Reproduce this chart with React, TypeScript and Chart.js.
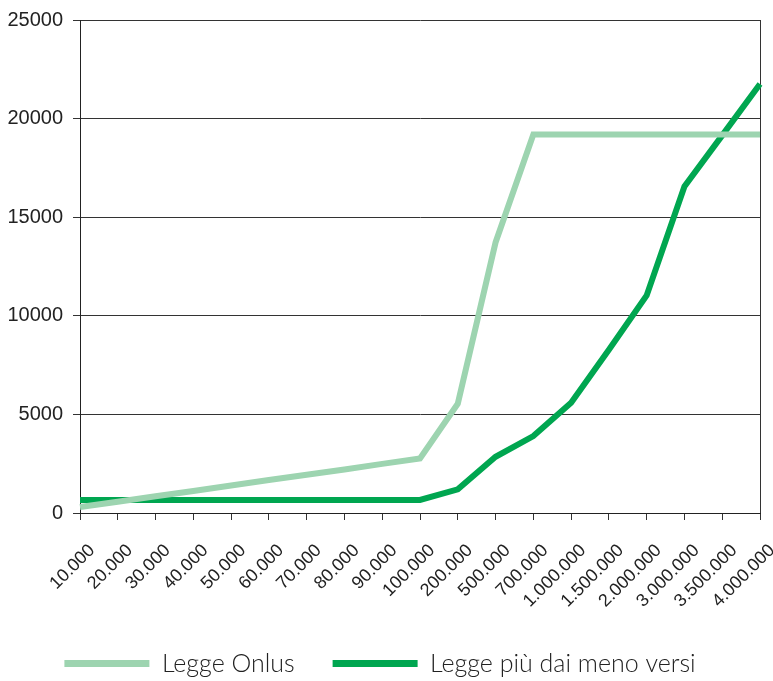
import React, { useEffect, useRef } from "react";
import { Chart, registerables } from "chart.js";

Chart.register(...registerables);

const categories = [
  "10.000", "20.000", "30.000", "40.000", "50.000", "60.000", "70.000", "80.000", "90.000", "100.000",
  "200.000", "500.000", "700.000", "1.000.000", "1.500.000", "2.000.000", "3.000.000", "3.500.000", "4.000.000",
];
const leggeOnlus = [300, 570, 850, 1120, 1390, 1670, 1940, 2210, 2490, 2760, 5540, 13720, 19190, 19190, 19190, 19190, 19190, 19190, 19190];
const leggePiuDai = [660, 660, 660, 660, 660, 660, 660, 660, 660, 660, 1200, 2850, 3900, 5590, 8280, 11030, 16560, 19150, 21750];
const yTicks = [0, 5000, 10000, 15000, 20000, 25000];

const LIGHT = "#9dd4b0";
const DARK = "#00a650";
const AXIS_FONT = "'Liberation Sans', Arial, sans-serif";

export default function App() {
  const ref = useRef<HTMLCanvasElement>(null);
  useEffect(() => {
    if (!ref.current) return;
    const chart = new Chart(ref.current, {
      type: "line",
      data: {
        labels: categories,
        datasets: [
          { label: "Legge Onlus", data: leggeOnlus, borderColor: LIGHT, backgroundColor: LIGHT, borderWidth: 6, pointRadius: 0, tension: 0, fill: false },
          { label: "Legge più dai meno versi", data: leggePiuDai, borderColor: DARK, backgroundColor: DARK, borderWidth: 6, pointRadius: 0, tension: 0, fill: false },
        ],
      },
      options: {
        animation: false,
        responsive: false,
        layout: { padding: { top: 20, right: 13, left: 0, bottom: 0 } },
        plugins: {
          legend: {
            position: "bottom",
            maxHeight: 68,
            labels: {
              boxWidth: 85,
              boxHeight: 7,
              padding: 38,
              color: "#222",
              font: { family: "Lato", size: 25, weight: "300" as any },
              generateLabels: (c: any) => {
                const items = Chart.defaults.plugins.legend.labels.generateLabels(c);
                items.forEach((it: any) => { it.lineWidth = 0; it.strokeStyle = "rgba(0,0,0,0)"; });
                return items;
              },
            },
          },
          tooltip: { enabled: false },
        },
        scales: {
          x: {
            offset: false,
            grid: {
              color: (ctx: any) => (ctx.index === categories.length - 1 ? "#333" : "rgba(0,0,0,0)"),
              tickColor: "#333",
              tickLength: 7,
              lineWidth: 1,
            },
            border: { color: "#222", width: 1 },
            ticks: {
              minRotation: 45,
              maxRotation: 45,
              autoSkip: false,
              color: "#222",
              font: { family: AXIS_FONT, size: 18 },
              padding: 20,
              labelOffset: 12,
            },
            afterFit: (scale: any) => {
              scale.height = 100;
              scale.paddingRight = 0;
              scale.paddingLeft = 0;
            },
          },
          y: {
            min: 0,
            max: 25000,
            afterBuildTicks: (scale: any) => { scale.ticks = yTicks.map((v) => ({ value: v })); },
            grid: { color: "#333", tickColor: "#333", tickLength: 7, lineWidth: 1 },
            border: { color: "#222", width: 1 },
            ticks: {
              color: "#222",
              font: { family: AXIS_FONT, size: 20 },
              padding: 10,
              callback: (v: any) => String(v),
            },
            afterFit: (scale: any) => {
              scale.width = 80;
              scale.paddingTop = 0;
              scale.paddingBottom = 0;
            },
          },
        },
      },
    });
    return () => chart.destroy();
  }, []);
  return (
    <div style={{ position: "absolute", left: 0, top: 0, width: 773, height: 681 }}>
      <canvas ref={ref} width={773} height={681} />
    </div>
  );
}
